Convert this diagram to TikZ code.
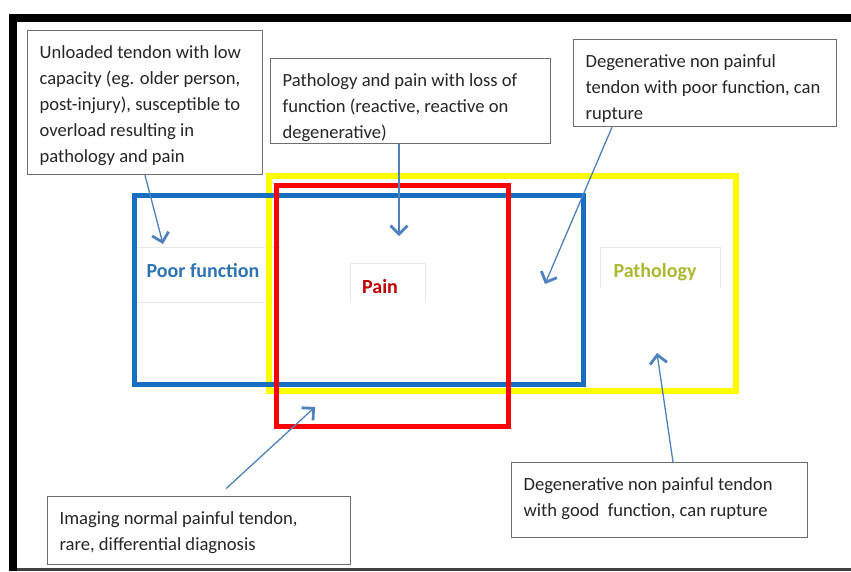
\documentclass[tikz,border=0pt]{standalone}
\usepackage{fontspec}
\setmainfont{Carlito}
\usetikzlibrary{arrows.meta,calc}
\definecolor{arrowblue}{RGB}{79,129,189}
\definecolor{rectblue}{RGB}{24,110,192}
\definecolor{rectred}{RGB}{255,0,0}
\definecolor{rectyellow}{RGB}{255,255,0}
\definecolor{lblblue}{RGB}{46,116,181}
\definecolor{lblred}{RGB}{192,0,0}
\definecolor{lblgreen}{RGB}{172,185,48}
\definecolor{boxgray}{RGB}{110,110,110}
\newcommand{\boxtext}[3]{\parbox[c][#2][t]{#1}{\raggedright\fontsize{18.6pt}{26pt}\selectfont\rule{0pt}{27.5pt}#3}}
\tikzset{
  tbox/.style={draw=boxgray, line width=1.2pt, fill=white, inner xsep=12pt, inner ysep=0pt, anchor=north west, text=black!85},
  lbl/.style={font=\fontsize{20pt}{24pt}\selectfont\bfseries, inner sep=0pt},
  lblframe/.style={draw=gray!18, line width=1pt},
  arr/.style={draw=arrowblue, line width=1.3pt, -{Straight Barb[length=8.5pt,width=17pt,line width=2.8pt]}},
}
\begin{document}
\begin{tikzpicture}[x=1pt,y=-1pt]
\useasboundingbox (0,0) rectangle (851,571);
\fill[white] (0,0) rectangle (851,571);
% frame
\fill[black] (9,14) rectangle (851,22);
\fill[black] (9,14) rectangle (17,571);
\fill[black!75] (17,568) rectangle (851,571);
% faint label frames
\draw[lblframe] (134,247) -- (280,247);
\draw[lblframe] (134,302) -- (270,302);
\draw[lblframe] (350,302) -- (350,263) -- (425,263) -- (425,302);
\draw[lblframe] (600,288) -- (600,247) -- (720,247) -- (720,288);
% overlapping rectangles
\draw[rectyellow, line width=6.5pt] (269,176) rectangle (736,391);
\draw[rectblue, line width=5pt] (134.5,195) rectangle (583,384);
\draw[rectred, line width=5pt] (276,185) rectangle (508,426);
% labels
\node[lbl, text=lblblue] (pf) at (203,271) {Poor function};
\node[lbl, text=lblred] (pn) at (380,287) {Pain};
\node[lbl, text=lblgreen] (pt) at (655,272) {Pathology};
% text boxes
\node[tbox] (b1) at (27,30) {\boxtext{211pt}{144pt}{Unloaded tendon with low\\ capacity (eg. older person,\\ post-injury), susceptible to\\ overload resulting in\\ pathology and pain}};
\node[tbox] (b2) at (270,58) {\boxtext{256pt}{85pt}{Pathology and pain with loss of\\ function (reactive, reactive on\\ degenerative)}};
\node[tbox] (b3) at (573,39) {\boxtext{239pt}{87pt}{Degenerative non painful\\ tendon with poor function, can\\ rupture}};
\node[tbox] (b4) at (47,496) {\boxtext{279pt}{68pt}{Imaging normal painful tendon,\\ rare, differential diagnosis}};
\node[tbox] (b5) at (511,462) {\boxtext{272pt}{75pt}{Degenerative non painful tendon\\ with good\ \ function, can rupture}};
% arrow tips
\coordinate (t1) at (163,244);
\coordinate (t2) at (399,236);
\coordinate (t3) at (545,284);
\coordinate (t4) at (315,407);
\coordinate (t5) at (657,353);
% arrows
\draw[arr] ([xshift=118pt]b1.south west) -- (t1);
\draw[arr] ([xshift=129pt]b2.south west) -- (t2);
\draw[arr] ([xshift=39pt]b3.south west) -- (t3);
\draw[arr, shorten <=11pt] ([xshift=171pt]b4.north west) -- (t4);
\draw[arr] ([xshift=162pt]b5.north west) -- (t5);
\end{tikzpicture}
\end{document}
